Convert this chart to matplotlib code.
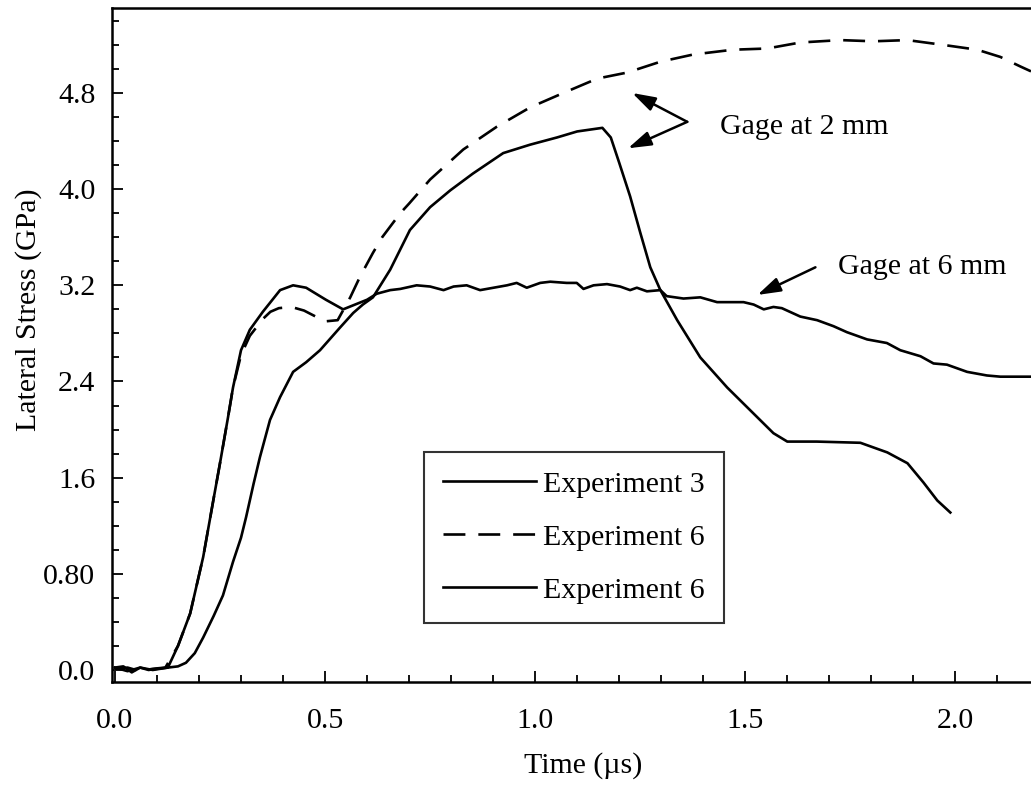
import numpy as np
import matplotlib
matplotlib.use("Agg")
import matplotlib.pyplot as plt
from matplotlib.ticker import MultipleLocator, FixedLocator, FixedFormatter

plt.rcParams['font.family'] = ['Liberation Serif', 'DejaVu Serif']

# Experiment 3, gage at 2 mm (solid)
t_exp3 = [0.0, 0.03, 0.06, 0.09, 0.126, 0.15, 0.169, 0.19, 0.21, 0.235, 0.257,
          0.281, 0.30, 0.312, 0.33, 0.345, 0.369, 0.393, 0.424, 0.455, 0.488,
          0.536, 0.567, 0.59, 0.614, 0.655, 0.702, 0.75, 0.798, 0.852, 0.924,
          0.988, 1.052, 1.10, 1.16, 1.18, 1.20, 1.226, 1.25, 1.274, 1.298,
          1.338, 1.393, 1.457, 1.512, 1.567, 1.60, 1.67, 1.774, 1.838, 1.886,
          1.924, 1.957, 1.988]
s_exp3 = [0.02, -0.01, 0.02, 0.0, 0.02, 0.03, 0.06, 0.14, 0.27, 0.45, 0.62,
          0.90, 1.10, 1.27, 1.55, 1.77, 2.08, 2.27, 2.48, 2.56, 2.66,
          2.85, 2.97, 3.04, 3.10, 3.33, 3.66, 3.85, 3.99, 4.13, 4.30,
          4.37, 4.43, 4.48, 4.51, 4.43, 4.22, 3.94, 3.64, 3.35, 3.16,
          2.91, 2.60, 2.35, 2.16, 1.97, 1.90, 1.90, 1.89, 1.81, 1.72,
          1.56, 1.41, 1.31]

# Experiment 6, gage at 2 mm (dashed)
t_exp6a = [0.0, 0.03, 0.06, 0.09, 0.12, 0.15, 0.179, 0.21, 0.233, 0.25, 0.269,
           0.281, 0.30, 0.321, 0.352, 0.37, 0.39, 0.42, 0.45, 0.50, 0.53, 0.56,
           0.583, 0.614, 0.636, 0.679, 0.70, 0.75, 0.829, 0.909, 0.988, 1.067,
           1.148, 1.219, 1.298, 1.376, 1.471, 1.552, 1.631, 1.726, 1.805, 1.886,
           1.971, 2.052, 2.107, 2.155, 2.18]
s_exp6a = [0.01, 0.02, -0.01, 0.01, 0.02, 0.2, 0.47, 0.94, 1.39, 1.72, 2.10,
           2.35, 2.62, 2.78, 2.92, 2.98, 3.01, 3.02, 2.99, 2.90, 2.91, 3.10,
           3.27, 3.47, 3.60, 3.80, 3.88, 4.08, 4.33, 4.52, 4.68, 4.80,
           4.92, 4.97, 5.06, 5.12, 5.16, 5.17, 5.22, 5.24, 5.23, 5.24,
           5.20, 5.16, 5.10, 5.02, 4.98]

# Experiment 6, gage at 6 mm (solid)
t_exp6b = [0.0, 0.02, 0.04, 0.06, 0.08, 0.10, 0.126, 0.15, 0.179, 0.21, 0.233,
           0.25, 0.269, 0.281, 0.30, 0.321, 0.352, 0.393, 0.424, 0.455, 0.502,
           0.543, 0.60, 0.623, 0.655, 0.679, 0.718, 0.75, 0.782, 0.806, 0.837,
           0.869, 0.901, 0.933, 0.956, 0.980, 1.012, 1.036, 1.075, 1.099, 1.115,
           1.139, 1.171, 1.202, 1.226, 1.242, 1.266, 1.298, 1.313, 1.353, 1.393,
           1.433, 1.496, 1.520, 1.544, 1.567, 1.587, 1.631, 1.671, 1.710, 1.742,
           1.790, 1.837, 1.869, 1.917, 1.948, 1.980, 2.028, 2.075, 2.107, 2.18]
s_exp6b = [0.02, 0.03, -0.02, 0.02, 0.0, 0.01, 0.02, 0.2, 0.47, 0.94, 1.39,
           1.72, 2.10, 2.35, 2.66, 2.83, 2.98, 3.16, 3.20, 3.18, 3.08,
           3.0, 3.08, 3.13, 3.16, 3.17, 3.20, 3.19, 3.16, 3.19, 3.20,
           3.16, 3.18, 3.20, 3.22, 3.18, 3.22, 3.23, 3.22, 3.22, 3.17,
           3.20, 3.21, 3.19, 3.16, 3.18, 3.15, 3.16, 3.11, 3.09, 3.10,
           3.06, 3.06, 3.04, 3.00, 3.02, 3.01, 2.94, 2.91, 2.86, 2.81,
           2.75, 2.72, 2.66, 2.61, 2.55, 2.54, 2.48, 2.45, 2.44, 2.44]

legend_labels = ['Experiment 3', 'Experiment 6', 'Experiment 6']
ytick_vals = [0.0, 0.8, 1.6, 2.4, 3.2, 4.0, 4.8]
ytick_labels = ['0.0', '0.80', '1.6', '2.4', '3.2', '4.0', '4.8']
xtick_vals = [0.0, 0.5, 1.0, 1.5, 2.0]
xtick_labels = ['0.0', '0.5', '1.0', '1.5', '2.0']

FS = 21.5
fig = plt.figure(figsize=(10.31, 7.88), dpi=100)
ax = fig.add_axes([112 / 1031, 106 / 788, 919 / 1031, 674 / 788])

lw = 1.9
ax.plot(t_exp3, s_exp3, color='black', lw=lw, label=legend_labels[0])
ax.plot(t_exp6a, s_exp6a, color='black', lw=lw, dashes=(8.3, 4.9), label=legend_labels[1])
ax.plot(t_exp6b, s_exp6b, color='black', lw=lw, label=legend_labels[2])

ax.set_xlim(-0.007, 2.18)
ax.set_ylim(-0.1, 5.507)

ax.xaxis.set_major_locator(FixedLocator(xtick_vals))
ax.xaxis.set_major_formatter(FixedFormatter(xtick_labels))
ax.xaxis.set_minor_locator(MultipleLocator(0.1))
ax.yaxis.set_major_locator(FixedLocator(ytick_vals))
ax.yaxis.set_major_formatter(FixedFormatter(ytick_labels))
ax.yaxis.set_minor_locator(MultipleLocator(0.2))

ax.tick_params(which='both', direction='in', top=False, right=False,
               labelsize=FS, width=1.3, color='black')
ax.tick_params(which='major', length=8)
ax.tick_params(which='minor', length=5)
ax.tick_params(axis='x', which='major', pad=19)
ax.tick_params(axis='y', which='major', pad=12)

for side in ['left', 'bottom', 'top']:
    ax.spines[side].set_linewidth(1.8)
ax.spines['right'].set_visible(False)

ax.set_xlabel('Time (\u00b5s)', fontsize=FS)
ax.set_ylabel('Lateral Stress (GPa)', fontsize=FS)
ax.xaxis.set_label_coords(0.5125, -0.104)
ax.yaxis.set_label_coords(-0.076, 0.552)

leg = ax.legend(loc='lower left', bbox_to_anchor=(0.339, 0.0875), fontsize=FS,
                frameon=True, fancybox=False, edgecolor='black',
                handlelength=3.1, handletextpad=0.25, labelspacing=0.87,
                borderpad=0.65, borderaxespad=0)
leg.get_frame().set_linewidth(1.5)

arrow = dict(arrowstyle='-|>,head_length=0.7,head_width=0.22', color='black',
             lw=1.8, mutation_scale=20, shrinkA=0, shrinkB=0)
ax.annotate('', xy=(1.231, 4.80), xytext=(1.362, 4.56), arrowprops=arrow)
ax.annotate('', xy=(1.221, 4.34), xytext=(1.362, 4.56), arrowprops=arrow)
ax.text(1.44, 4.52, 'Gage at 2 mm', fontsize=FS, ha='left', va='center')
ax.annotate('', xy=(1.529, 3.12), xytext=(1.667, 3.35), arrowprops=arrow)
ax.text(1.721, 3.35, 'Gage at 6 mm', fontsize=FS, ha='left', va='center')

fig.savefig('out.png', dpi=100)
